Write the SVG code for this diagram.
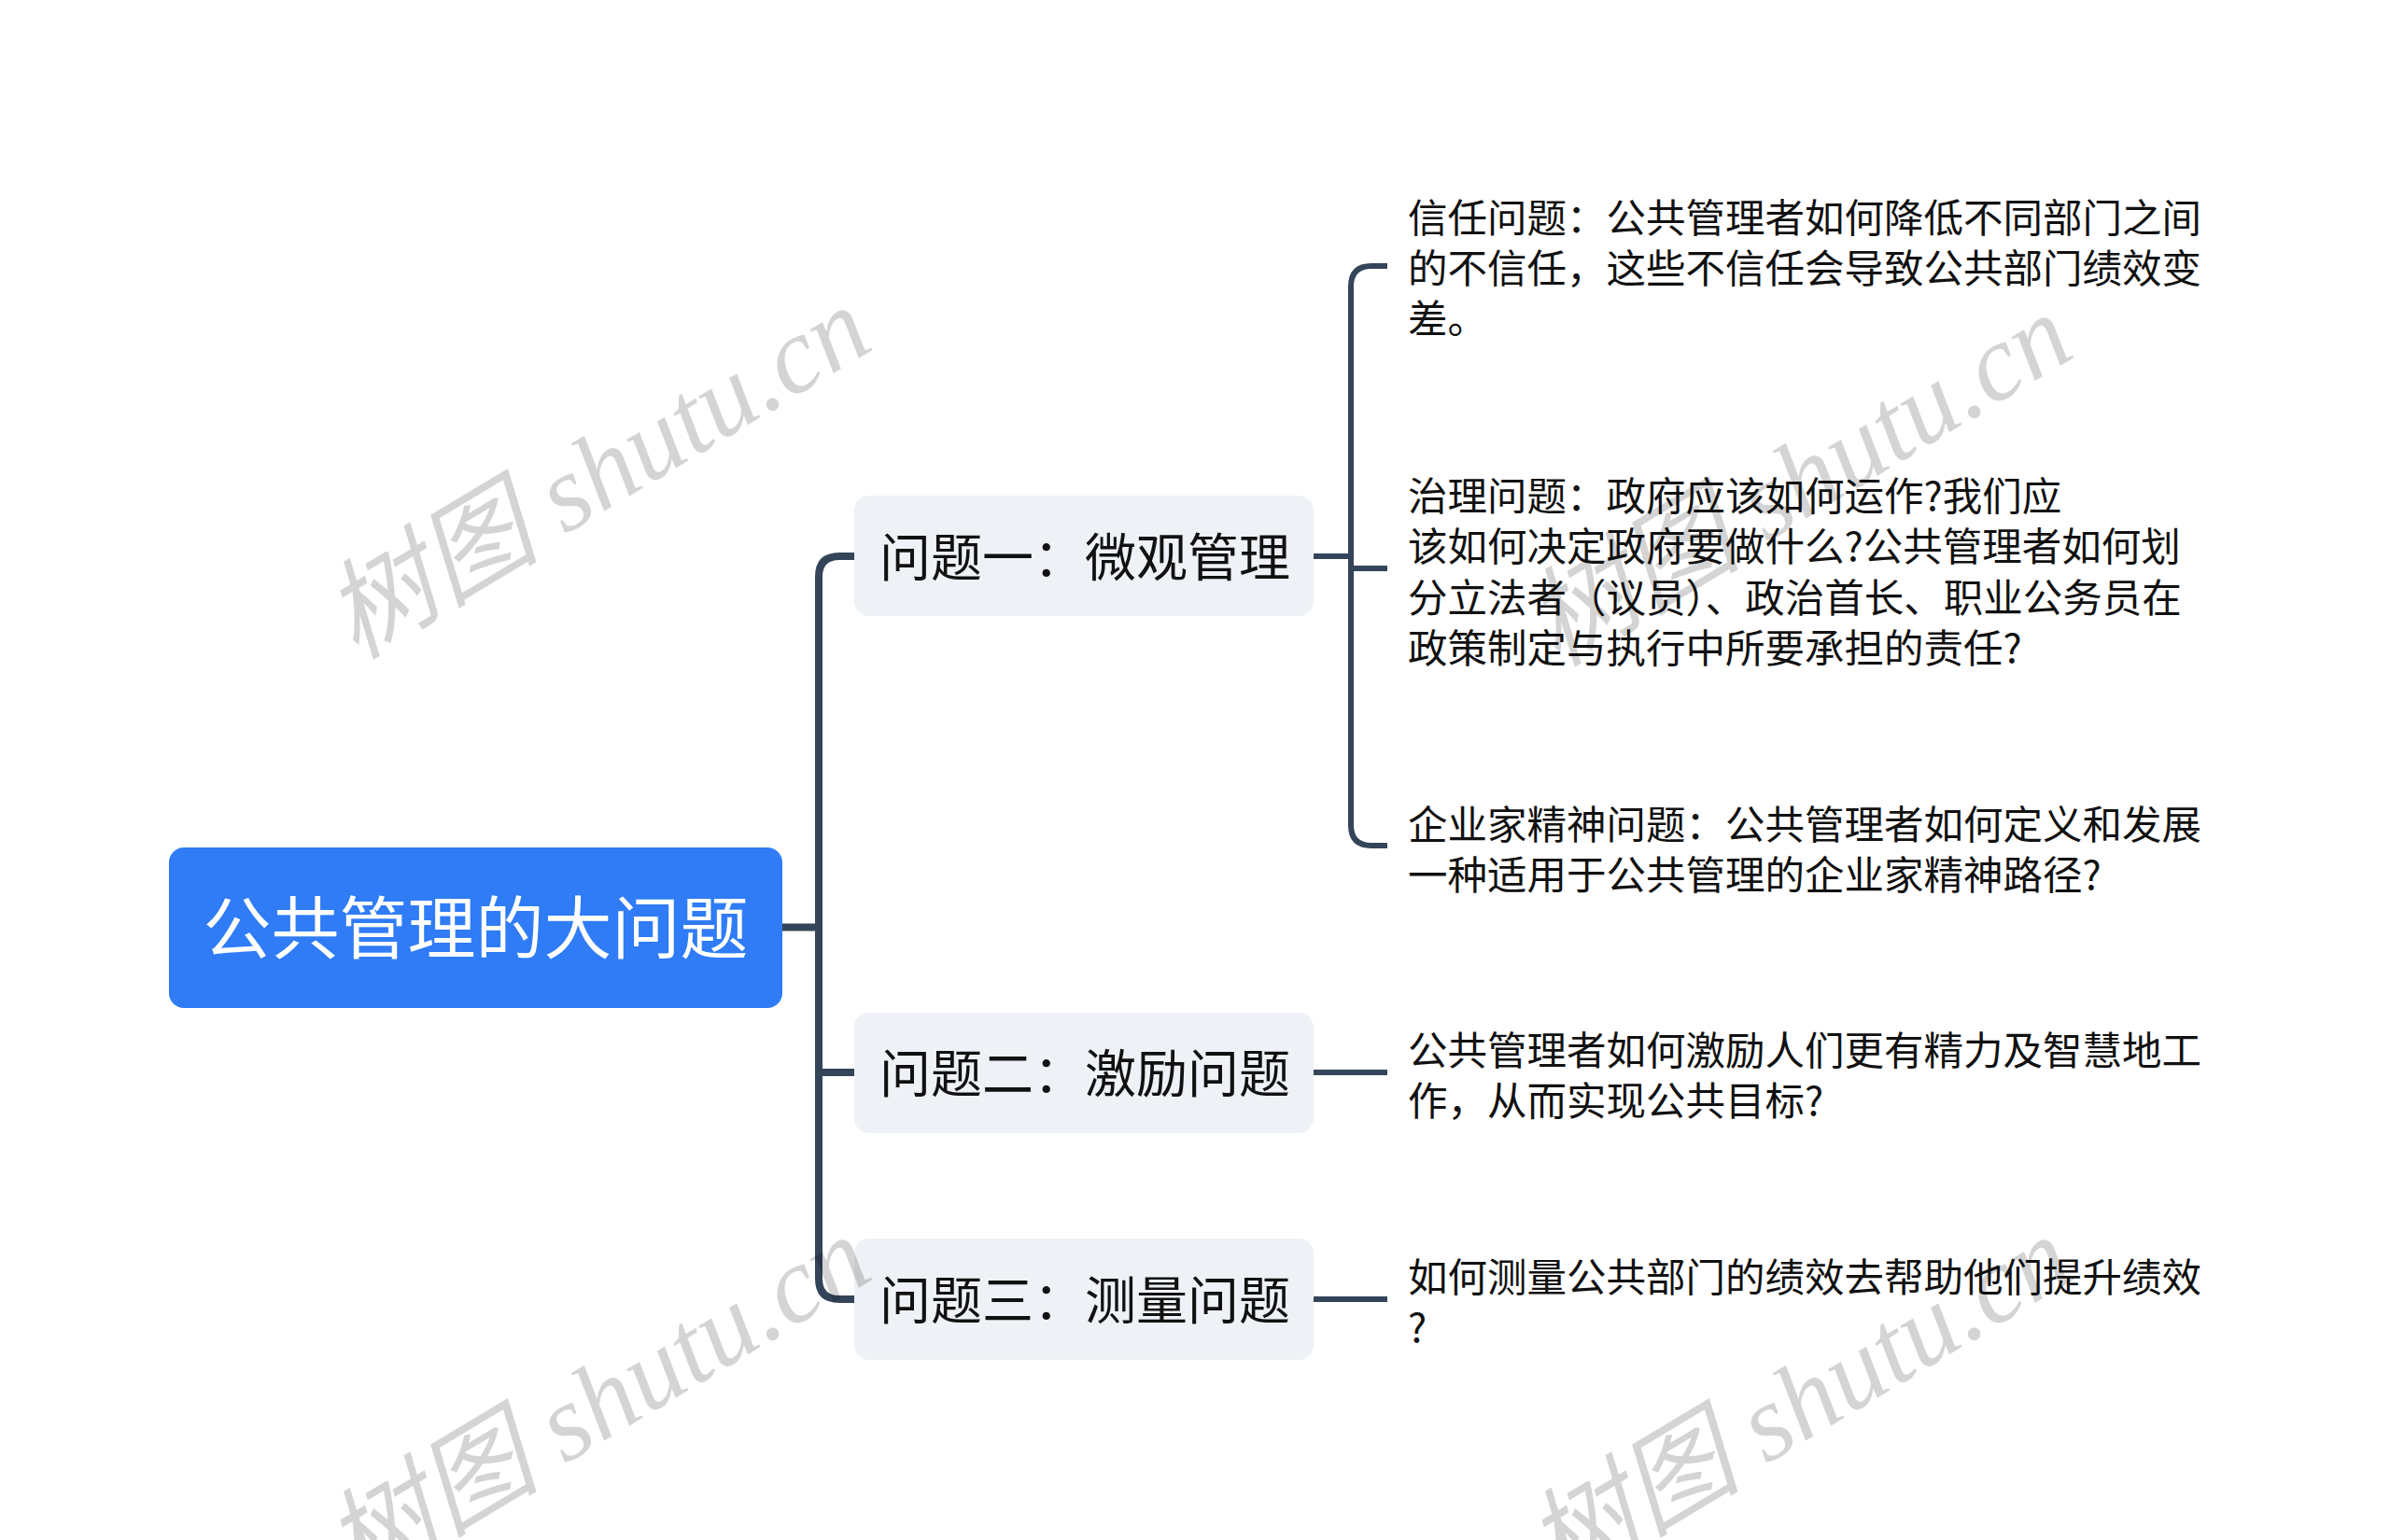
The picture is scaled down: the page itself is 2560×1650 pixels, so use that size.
<svg xmlns="http://www.w3.org/2000/svg" width="2560" height="1650" viewBox="0 0 2560 1650">
<style>
.root-box{fill:#2f7cf6;}
.root-text{font-family:"Noto Sans CJK SC","Noto Sans",sans-serif;font-size:73px;fill:#ffffff;text-anchor:middle;}
.br-box{fill:#eef1f5;}
.br-text{font-family:"Noto Sans CJK SC","Noto Sans",sans-serif;font-size:55px;fill:#111111;text-anchor:middle;}
.leaf-text{font-family:"Noto Sans CJK SC","Noto Sans",sans-serif;font-size:42.5px;fill:#111111;}
.c-main{fill:none;stroke:#344559;stroke-width:8;stroke-linecap:butt;}
.c-sub{fill:none;stroke:#344559;stroke-width:6;stroke-linecap:butt;}
.wm{font-family:"Liberation Serif","Noto Sans CJK SC",serif;font-size:116px;font-style:italic;fill:#000000;fill-opacity:0.17;text-anchor:middle;}
</style>
<rect width="2560" height="1650" fill="#ffffff"/>
<g id="connectors">
<path class="c-main" d="M838 993.5 H877"/>
<path class="c-main" d="M915 596 H899 Q877 596 877 618 V1370 Q877 1392 899 1392 H915"/>
<path class="c-main" d="M877 1149 H915"/>
<path class="c-sub" d="M1407 596 H1447"/>
<path class="c-sub" d="M1486 285 H1469 Q1447 285 1447 307 V884 Q1447 906 1469 906 H1486"/>
<path class="c-sub" d="M1447 609 H1486"/>
<path class="c-sub" d="M1407 1149 H1486"/>
<path class="c-sub" d="M1407 1392 H1486"/>
</g>
<g id="root">
<rect class="root-box" x="181" y="908" width="657" height="172" rx="16"/>
<text class="root-text" x="509.5" y="1020.5">公共管理的大问题</text>
</g>
<g id="branch1">
<rect class="br-box" x="915" y="531" width="492" height="129" rx="16"/>
<text class="br-text" x="1162" y="616.5">问题一：微观管理</text>
</g>
<g id="branch2">
<rect class="br-box" x="915" y="1085" width="492" height="129" rx="16"/>
<text class="br-text" x="1162" y="1169.5">问题二：激励问题</text>
</g>
<g id="branch3">
<rect class="br-box" x="915" y="1327" width="492" height="130" rx="16"/>
<text class="br-text" x="1162" y="1412.5">问题三：测量问题</text>
</g>
<g id="leaf1">
<text class="leaf-text" x="1508" y="249"><tspan x="1508">信任问题：公共管理者如何降低不同部门之间</tspan><tspan x="1508" dy="54">的不信任，这些不信任会导致公共部门绩效变</tspan><tspan x="1508" dy="54">差。</tspan></text>
</g>
<g id="leaf2">
<text class="leaf-text" x="1508" y="546.5"><tspan x="1508">治理问题：政府应该如何运作?我们应</tspan><tspan x="1508" dy="54.5">该如何决定政府要做什么?公共管理者如何划</tspan><tspan x="1508" dy="54.5">分立法者（议员）、政治首长、职业公务员在</tspan><tspan x="1508" dy="54.5">政策制定与执行中所要承担的责任?</tspan></text>
</g>
<g id="leaf3">
<text class="leaf-text" x="1508" y="899"><tspan x="1508">企业家精神问题：公共管理者如何定义和发展</tspan><tspan x="1508" dy="54">一种适用于公共管理的企业家精神路径?</tspan></text>
</g>
<g id="leaf4">
<text class="leaf-text" x="1508" y="1141"><tspan x="1508">公共管理者如何激励人们更有精力及智慧地工</tspan><tspan x="1508" dy="54">作，从而实现公共目标?</tspan></text>
</g>
<g id="leaf5">
<text class="leaf-text" x="1508" y="1384"><tspan x="1508">如何测量公共部门的绩效去帮助他们提升绩效</tspan><tspan x="1508" dy="54">?</tspan></text>
</g>
<g id="watermarks">
<text class="wm" transform="translate(660 540) rotate(-31)">树图 shutu.cn</text>
<text class="wm" transform="translate(1947 548) rotate(-31)">树图 shutu.cn</text>
<text class="wm" transform="translate(660 1536) rotate(-31)">树图 shutu.cn</text>
<text class="wm" transform="translate(1947 1536) rotate(-31)">树图 shutu.cn</text>
</g>
</svg>
